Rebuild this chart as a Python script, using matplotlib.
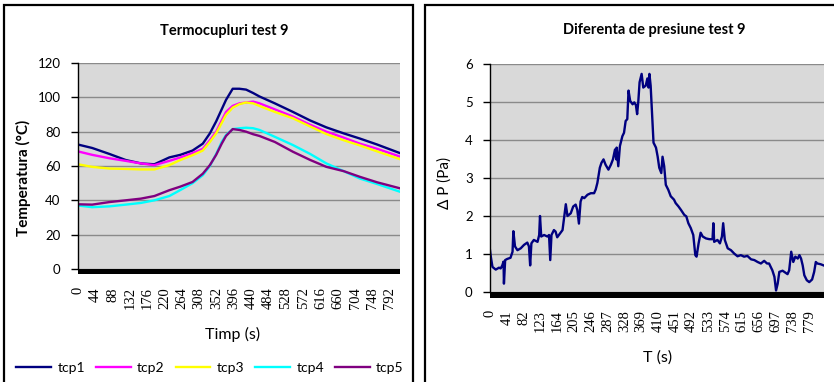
import matplotlib
matplotlib.use("Agg")
import matplotlib.pyplot as plt
from matplotlib.patches import Rectangle
from matplotlib.lines import Line2D

# ---------------- data ----------------
temp_time = [0, 36, 80, 121, 160, 194, 232, 260, 291, 317, 335, 351, 365, 376,
             393, 410, 427, 445, 461, 500, 546, 590, 631, 675, 716, 760, 818]
tcp1 = [72.5, 70.5, 67, 63.5, 61.5, 61, 65, 66.5, 69, 73, 79, 86, 93, 98.5,
        105, 105, 104.5, 102.5, 100.5, 96.5, 91.5, 86.5, 82.5, 79, 76, 72.5, 67.5]
tcp2 = [68.5, 66.5, 64.5, 63, 61.5, 60.5, 63, 65, 67.5, 70, 75, 80, 86.5, 91.5,
        95, 96.5, 97, 97.5, 96.5, 93, 88.8, 84, 80, 76.5, 73, 70, 65.5]
tcp3 = [61, 59.5, 58.5, 58.3, 58, 58, 60.5, 63.5, 66.3, 69, 74, 79, 85, 89.8,
        94, 96, 97, 96.5, 95, 91.5, 87.8, 83, 78.6, 75, 72, 68.5, 64]
tcp4 = [37, 36, 36.5, 37.5, 38.5, 40, 42.5, 46, 50, 54.6, 60, 67, 74, 78,
        81.5, 82, 82.3, 82, 81, 77, 72.2, 67, 61.5, 57, 52.7, 49.5, 45]
tcp5 = [37.7, 37.5, 39, 40, 41, 42.5, 45.9, 48, 50.7, 55.5, 60.5, 66.5, 73, 77.5,
        81.5, 81, 80, 78.5, 77.5, 74, 68.3, 63.5, 59.5, 57, 53.7, 50.5, 47]
series_names = ["tcp1", "tcp2", "tcp3", "tcp4", "tcp5"]
series_colors = ["#000080", "#ff00ff", "#ffff00", "#00ffff", "#800080"]
temp_xticks = list(range(0, 793, 44))
temp_yticks = [0, 20, 40, 60, 80, 100, 120]

p_time = [0, 2, 6, 14, 22, 26, 30, 33, 34, 37, 42, 50, 55, 57, 61, 67, 75, 83, 91,
          95, 98, 101, 107, 116, 120, 122, 125, 132, 140, 144, 147, 150, 156, 160,
          164, 168, 177, 182, 185, 189, 197, 203, 209, 213, 217, 221, 225, 230, 238,
          246, 254, 258, 262, 268, 272, 277, 282, 289, 295, 300, 305, 308, 309, 313,
          317, 323, 327, 331, 335, 338, 342, 348, 352, 356, 359, 362, 365, 370, 374,
          380, 384, 387, 389, 392, 395, 399, 405, 409, 413, 418, 421, 425, 429, 435,
          441, 449, 453, 460, 466, 474, 479, 484, 490, 496, 501, 504, 509, 514, 519,
          527, 535, 543, 545, 547, 555, 561, 566, 569, 573, 580, 588, 596, 604, 612,
          620, 628, 637, 645, 653, 661, 669, 676, 681, 689, 694, 698, 702, 706, 714,
          722, 726, 730, 735, 740, 745, 751, 755, 759, 763, 767, 773, 779, 786, 791,
          795, 799, 807, 814]
p_val = [1.1, 0.93, 0.66, 0.59, 0.64, 0.62, 0.7, 0.8, 0.22, 0.84, 0.87, 0.9, 1.06,
         1.6, 1.2, 1.1, 1.15, 1.24, 1.3, 1.2, 0.7, 1.28, 1.37, 1.32, 1.5, 2.0, 1.46,
         1.5, 1.46, 1.5, 0.84, 1.5, 1.63, 1.59, 1.44, 1.5, 1.63, 2.07, 2.31, 2.0,
         2.07, 2.25, 2.3, 2.16, 1.8, 2.38, 2.5, 2.47, 2.56, 2.6, 2.6, 2.7, 2.87, 3.27,
         3.4, 3.49, 3.35, 3.22, 3.35, 3.49, 3.75, 3.49, 3.8, 3.31, 3.84, 4.1, 4.19,
         4.5, 4.55, 5.3, 5.03, 4.94, 4.99, 4.92, 4.68, 5.03, 5.52, 5.74, 5.38, 5.43,
         5.62, 5.38, 5.74, 5.43, 4.81, 3.93, 3.8, 3.57, 3.27, 3.13, 3.56, 3.31, 2.82,
         2.69, 2.52, 2.43, 2.34, 2.25, 2.16, 2.03, 1.99, 1.81, 1.68, 1.5, 0.97, 0.93,
         1.28, 1.56, 1.46, 1.41, 1.39, 1.39, 1.81, 1.32, 1.37, 1.28, 1.46, 1.81, 1.37,
         1.15, 1.1, 1.01, 0.94, 0.97, 0.93, 0.95, 0.86, 0.84, 0.79, 0.75, 0.82, 0.75,
         0.75, 0.57, 0.4, 0.04, 0.22, 0.53, 0.56, 0.5, 0.47, 0.57, 1.06, 0.79, 0.93,
         0.88, 0.97, 0.88, 0.7, 0.44, 0.31, 0.26, 0.33, 0.53, 0.79, 0.75, 0.73, 0.7]
p_xticks = list(range(0, 780, 41))
p_yticks = [0, 1, 2, 3, 4, 5, 6]

# ---------------- figure ----------------
W, H = 834, 382
fig = plt.figure(figsize=(W / 100, H / 100), dpi=100)
fig.patch.set_facecolor("white")

def fx(px):
    return px / W

def fy(py):
    return 1 - py / H

SANS = ["Lato", "DejaVu Sans"]
SERIF = ["Liberation Serif", "DejaVu Serif"]
BG = "#d9d9d9"
GRID = "#8a8a8a"

# panel borders
for (x0, x1) in [(3.5, 413), (424.5, 840)]:
    fig.add_artist(Rectangle((fx(x0), fy(390)), fx(x1) - fx(x0), fy(5) - fy(390),
                             transform=fig.transFigure, fill=False,
                             edgecolor="black", linewidth=1.6))

def style_axes(ax, floor_px, plot_h_px):
    ax.set_facecolor(BG)
    for s in ["top", "right", "bottom"]:
        ax.spines[s].set_visible(False)
    ax.spines["left"].set_color("black")
    ax.spines["left"].set_linewidth(1.0)
    ax.grid(axis="y", color=GRID, linewidth=1.0)
    ax.set_axisbelow(True)
    ax.tick_params(axis="y", direction="out", length=5, width=1, color="black",
                   pad=7.5, labelsize=9.5)
    ax.tick_params(axis="x", length=0, pad=13, labelsize=10.5)
    for lab in ax.get_yticklabels():
        lab.set_family(SANS)
    for lab in ax.get_xticklabels():
        lab.set_family(SERIF)
        lab.set_rotation(90)
    h = floor_px / plot_h_px
    ax.add_patch(Rectangle((0, -h), 1, h, transform=ax.transAxes,
                           facecolor="black", edgecolor="none", clip_on=False,
                           zorder=5))

# ---- left: temperatures ----
axL = fig.add_axes([fx(78), fy(269), fx(400) - fx(78), fy(63) - fy(269)])
for name, col, vals in zip(series_names, series_colors, [tcp1, tcp2, tcp3, tcp4, tcp5]):
    axL.plot(temp_time, vals, color=col, linewidth=1.7, label=name)
axL.set_xlim(0, 818)
axL.set_ylim(0, 120)
axL.set_yticks(temp_yticks)
axL.set_xticks(temp_xticks)
axL.set_xticklabels([str(v) for v in temp_xticks])
style_axes(axL, 5, 206)

fig.text(fx(224), fy(31), "Termocupluri test 9", ha="center", va="center",
         fontsize=10.5, fontweight="bold", family=SANS)
fig.text(fx(23), fy(178), "Temperatura (°C)", ha="center", va="center",
         rotation=90, fontsize=11, fontweight="bold", family=SANS)
fig.text(fx(233), fy(334), "Timp (s)", ha="center", va="center",
         fontsize=11.5, family=SANS)

handles = [Line2D([], [], color=c, linewidth=1.7) for c in series_colors]
fig.legend(handles, series_names, loc="center", bbox_to_anchor=(fx(210), fy(368)),
           ncol=5, frameon=False, prop={"family": SANS, "size": 10},
           handlelength=2.5, handletextpad=0.45, columnspacing=0.8,
           borderaxespad=0, borderpad=0)

# ---- right: pressure ----
axR = fig.add_axes([fx(490), fy(292), fx(824) - fx(490), fy(64) - fy(292)])
axR.plot(p_time, p_val, color="#000080", linewidth=1.7)
axR.set_xlim(0, 815)
axR.set_ylim(0, 6)
axR.set_yticks(p_yticks)
axR.set_xticks(p_xticks)
axR.set_xticklabels([str(v) for v in p_xticks])
style_axes(axR, 5.5, 228)

fig.text(fx(654), fy(30), "Diferenta de presiune test 9", ha="center", va="center",
         fontsize=10.5, fontweight="bold", family=SANS)
fig.text(fx(445), fy(183), "\u0394 P (Pa)", ha="center", va="center",
         rotation=90, fontsize=11, family=SANS)
fig.text(fx(658), fy(358), "T (s)", ha="center", va="center",
         fontsize=11.5, family=SANS)

fig.savefig("out.png", dpi=100)
